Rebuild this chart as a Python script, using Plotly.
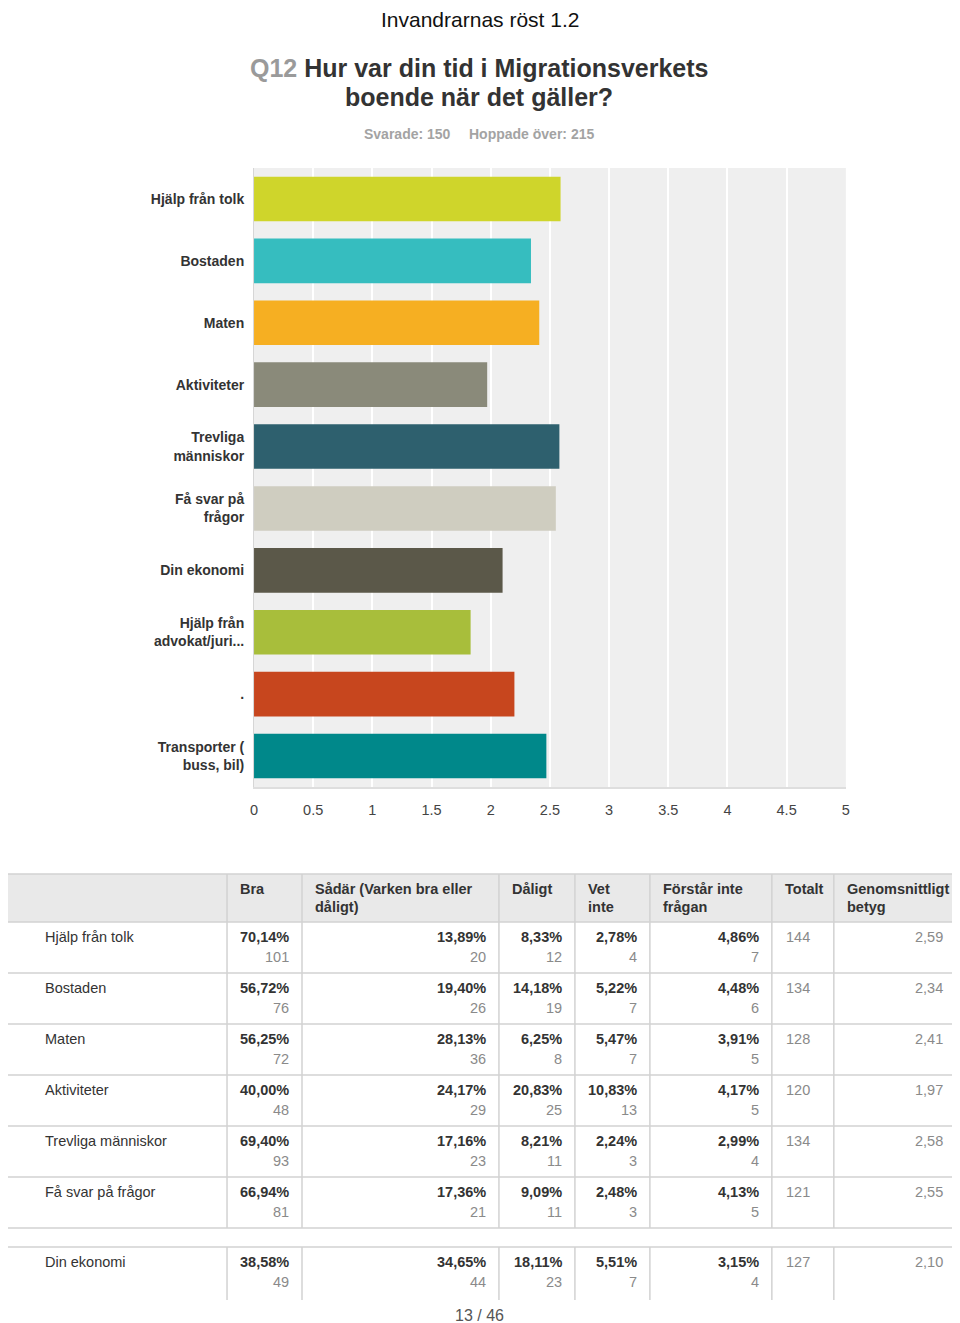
import plotly.graph_objects as go

# ---------------- data ----------------
categories = ["Hjälp från tolk", "Bostaden", "Maten", "Aktiviteter",
              "Trevliga<br>människor", "Få svar på<br>frågor", "Din ekonomi",
              "Hjälp från<br>advokat/juri...", ".", "Transporter (<br>buss, bil)"]
averages = [2.59, 2.34, 2.41, 1.97, 2.58, 2.55, 2.10, 1.83, 2.20, 2.47]
bar_colors = ["#CFD52B", "#36BDBF", "#F6AF22", "#8A8A7A", "#2E606E",
              "#CFCDC0", "#5B5849", "#A8BE3B", "#C7461E", "#00888A"]
x_ticks = [0, 0.5, 1, 1.5, 2, 2.5, 3, 3.5, 4, 4.5, 5]

col_headers = ["Bra", "Sådär (Varken bra eller<br>dåligt)", "Dåligt", "Vet<br>inte",
               "Förstår inte<br>frågan", "Totalt", "Genomsnittligt<br>betyg"]
row_labels = ["Hjälp från tolk", "Bostaden", "Maten", "Aktiviteter",
              "Trevliga människor", "Få svar på frågor", "Din ekonomi"]
bra_pct = [70.14, 56.72, 56.25, 40.00, 69.40, 66.94, 38.58]
bra_n = [101, 76, 72, 48, 93, 81, 49]
sadar_pct = [13.89, 19.40, 28.13, 24.17, 17.16, 17.36, 34.65]
sadar_n = [20, 26, 36, 29, 23, 21, 44]
daligt_pct = [8.33, 14.18, 6.25, 20.83, 8.21, 9.09, 18.11]
daligt_n = [12, 19, 8, 25, 11, 11, 23]
vet_pct = [2.78, 5.22, 5.47, 10.83, 2.24, 2.48, 5.51]
vet_n = [4, 7, 7, 13, 3, 3, 7]
forstar_pct = [4.86, 4.48, 3.91, 4.17, 2.99, 4.13, 3.15]
forstar_n = [7, 6, 5, 5, 4, 5, 4]
totalt = [144, 134, 128, 120, 134, 121, 127]
betyg = [2.59, 2.34, 2.41, 1.97, 2.58, 2.55, 2.10]

# ---------------- layout helpers ----------------
W, H = 960, 1323
OFF_X, SCALE_X = 11.9, 0.992   # page placement compensation
OFF_Y = 8
FONT = "Liberation Sans, Arial, sans-serif"


def px(x):
    return ((x - OFF_X) / SCALE_X) / W


def py(y):
    return 1 - (y - OFF_Y) / H


fig = go.Figure()
fig.add_trace(go.Bar(
    x=averages, y=categories, orientation="h",
    marker=dict(color=bar_colors, line=dict(width=0)),
    width=0.72, hoverinfo="x+y",
))

annotations = []
shapes = []


def text(x, y, s, size=14.5, color="#333333", bold=False, xanchor="left", yanchor="middle"):
    annotations.append(dict(
        x=px(x), y=py(y) if y is not None else 1, xref="paper", yref="paper", text=s,
        showarrow=False, xanchor=xanchor, yanchor=yanchor,
        align=xanchor if xanchor != "center" else "center",
        borderpad=0, borderwidth=0,
        font=dict(family=FONT, size=size, color=color, weight="bold" if bold else "normal"),
    ))


def line(x0, y0, x1, y1, color="#d2d2d2", width=1.5):
    shapes.append(dict(type="line", xref="paper", yref="paper",
                       x0=px(x0), y0=py(y0), x1=px(x1), y1=py(y1),
                       line=dict(color=color, width=width)))


# titles
text(480, None, "Invandrarnas röst 1.2", size=21, color="#111111", xanchor="center", yanchor="top")
text(479, 68, "<span style='color:#9a9a9a'>Q12</span> Hur var din tid i Migrationsverkets",
     size=25, color="#333333", bold=True, xanchor="center")
text(479, 97, "boende när det gäller?", size=25, color="#333333", bold=True, xanchor="center")
text(451, 134, "Svarade: 150", size=14, color="#a3a3a3", bold=True, xanchor="right")
text(469, 134, "Hoppade över: 215", size=14, color="#a3a3a3", bold=True, xanchor="left")

# ---------------- table ----------------
col_edges = [2, 227, 302, 499, 575, 650, 772, 834, 957]
header_top, header_bot = 874, 922
row_tops = [922, 973, 1024, 1075, 1126, 1177, 1247]
row_h = 51
table_bottom = 1300

# header background
shapes.append(dict(type="rect", xref="paper", yref="paper",
                   x0=px(col_edges[0]), x1=px(col_edges[-1]), y0=py(header_bot), y1=py(header_top),
                   fillcolor="#e9e9e9", line=dict(width=0), layer="below"))
line(col_edges[0], header_top, col_edges[-1], header_top)
line(col_edges[0], header_bot, col_edges[-1], header_bot)
for xe in col_edges[1:-1]:
    line(xe, header_top, xe, header_bot)

for i, h in enumerate(col_headers):
    parts = h.split("<br>")
    for j, p in enumerate(parts):
        text(col_edges[i + 1] + 13, 889 + 18 * j, p, bold=True)

pct_cols = [(bra_pct, bra_n), (sadar_pct, sadar_n), (daligt_pct, daligt_n),
            (vet_pct, vet_n), (forstar_pct, forstar_n)]


def fmt(v):
    return f"{v:.2f}".replace(".", ",")


for r, lab in enumerate(row_labels):
    top = row_tops[r]
    bottom = top + row_h if r < len(row_labels) - 1 else table_bottom
    if r < len(row_labels) - 1:
        line(col_edges[0], top + row_h, col_edges[-1], top + row_h)
    else:
        line(col_edges[0], top, col_edges[-1], top)
    for xe in col_edges[1:-1]:
        line(xe, top, xe, bottom)
    text(45, top + 15, lab, color="#333333")
    for c, (pcts, ns) in enumerate(pct_cols):
        xr = col_edges[c + 2] - 13
        text(xr, top + 15, fmt(pcts[r]) + "%", bold=True, xanchor="right")
        text(xr, top + 35, str(ns[r]), color="#8a8a8a", xanchor="right")
    text(col_edges[6] + 14, top + 15, str(totalt[r]), color="#8a8a8a")
    text(col_edges[8] - 14, top + 15, fmt(betyg[r]), color="#8a8a8a", xanchor="right")

text(480, 1315, "13 / 46", size=16, color="#555555", xanchor="center")

fig.update_layout(
    width=W, height=H, margin=dict(l=0, r=0, t=0, b=0),
    paper_bgcolor="white", plot_bgcolor="#efefef",
    showlegend=False, bargap=0.28,
    annotations=annotations, shapes=shapes,
    font=dict(family=FONT),
    xaxis=dict(domain=[px(254), px(846)], range=[0, 5], tickvals=x_ticks,
               ticktext=[str(t) for t in x_ticks],
               showgrid=True, gridcolor="white", gridwidth=2, zeroline=False,
               showline=True, linecolor="#dedede", linewidth=2,
               tickfont=dict(family=FONT, size=14.5, color="#444444"),
               ticks="", ticklabelstandoff=9, fixedrange=True),
    yaxis=dict(domain=[py(787), py(168)], autorange="reversed",
               showgrid=False, zeroline=False,
               showline=True, linecolor="#d6d6d6", linewidth=1,
               tickfont=dict(family=FONT, size=14, color="#333333", weight="bold"),
               ticks="", ticklabelstandoff=6, fixedrange=True),
)

fig.write_html("out.html")
